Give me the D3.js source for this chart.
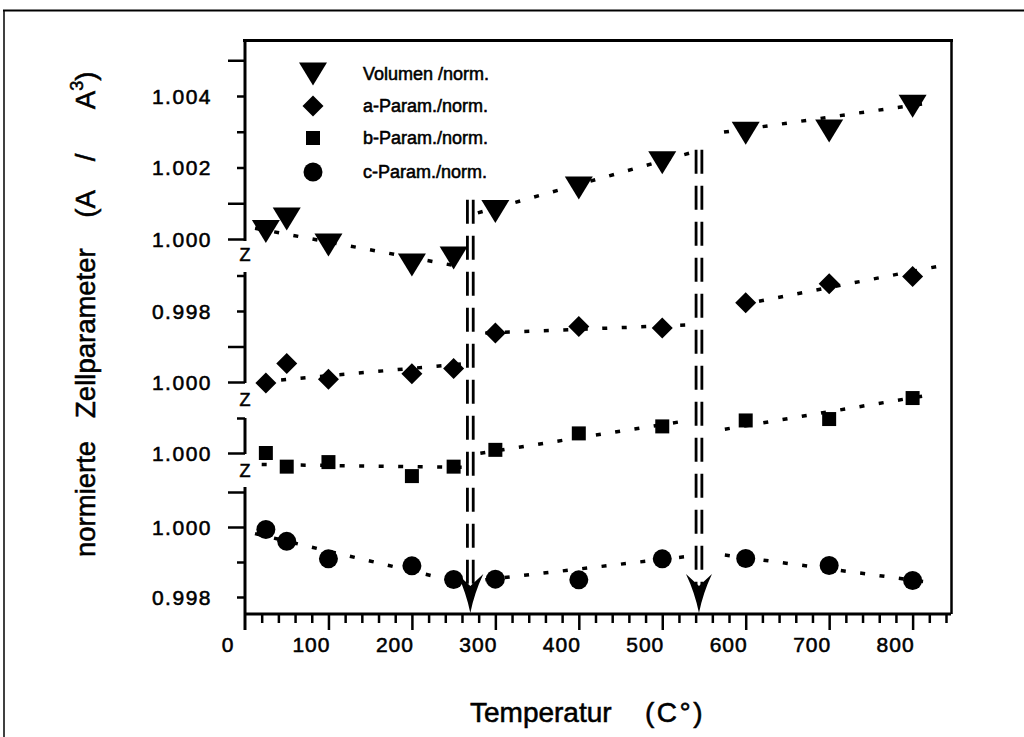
<!DOCTYPE html>
<html><head><meta charset="utf-8">
<script src="https://cdn.jsdelivr.net/npm/d3@7/dist/d3.min.js"></script>
<style>
body{margin:0;background:#fff;}
svg{display:block;}
text{font-family:"Liberation Sans",Arial,Helvetica,sans-serif;fill:#000;stroke:#000;stroke-width:0.55px;}
</style>
</head><body>
<svg id="chart" width="1024" height="737"></svg>
<script>
// ---------------- DATA ----------------
const temps = [25, 50, 100, 200, 250, 300, 400, 500, 600, 700, 800];
const volumen = [1.00021, 1.00056, 0.99983, 0.99927, 0.99947, 1.00077, 1.00143, 1.00213, 1.00296, 1.00302, 1.00371];
const aParam  = [0.99997, 1.00052, 1.00008, 1.00023, 1.00038, 1.00138, 1.00156, 1.00152, 1.00223, 1.00277, 1.00297];
const bParam  = [1.00000, 0.99961, 0.99974, 0.99934, 0.99961, 1.00009, 1.00056, 1.00076, 1.00093, 1.00097, 1.00157];
const cParam  = [0.99993, 0.99959, 0.99909, 0.99889, 0.99850, 0.99851, 0.99849, 0.99909, 0.99910, 0.99890, 0.99847];

// dotted fit segments: [[T0, v0], [T1, v1]]
const volumenFits = [[[12, 1.00030], [264, 0.99920]], [[279, 1.00073], [534, 1.00241]], [[574, 1.00299], [824, 1.00382]]];
const aFits = [[[20, 1.00001], [260, 1.00051]], [[288, 1.00138], [534, 1.00161]], [[593, 1.00217], [833, 1.00327]]];
const bFits = [[[20, 0.99967], [260, 0.99959]], [[282, 0.99999], [534, 1.00094]], [[575, 1.00068], [823, 1.00167]]];
const cFits = [[[12, 0.99981], [264, 0.99838]], [[288, 0.99849], [534, 0.99917]], [[575, 0.99920], [823, 0.99841]]];

const seriesNames = ["Volumen /norm.", "a-Param./norm.", "b-Param./norm.", "c-Param./norm."];

// x axis
const xTickLabels = [0, 100, 200, 300, 400, 500, 600, 700, 800];
const xMinorStep = 20;
const xMax = 846;

// y panels: tick values, printed labels, long ticks
const p1Ticks = [1.000, 1.001, 1.002, 1.003, 1.004, 1.005];
const p1Labels = {"1.000": "1.000", "1.002": "1.002", "1.004": "1.004"};
const p1Long = [1.000, 1.001, 1.005];
const p2Ticks = [1.000, 1.001, 1.002, 1.003];
const p2Labels = {"1.000": "1.000", "1.002": "0.998"};
const p2Long = [1.000, 1.001];
const p3Ticks = [1.000, 1.001];
const p3Labels = {"1.000": "1.000"};
const p3Long = [1.000];
const p4Ticks = [0.998, 0.999, 1.000, 1.001];
const p4Labels = {"1.000": "1.000", "0.998": "0.998"};
const p4Long = [1.000, 1.001];

// phase transitions (°C) and top of marker line (in panel-1 units)
const transitionT = [270, 544];
const transitionTop = [1.0011, 1.0025];

// ---------------- LAYOUT ----------------
const svg = d3.select("#chart");
const X0 = 245, X1 = 951, YAX = 614;
const x = d3.scaleLinear().domain([0, xMax]).range([X0, X1]);

const panels = [
  {y: d3.scaleLinear().domain([1.000, 1.004]).range([239, 96]), seg: [40, 241], ticks: p1Ticks, labels: p1Labels, long: p1Long, vals: volumen, fits: volumenFits, sym: "tri"},
  {y: d3.scaleLinear().domain([1.000, 1.002]).range([382, 311]), seg: [272, 383], ticks: p2Ticks, labels: p2Labels, long: p2Long, vals: aParam, fits: aFits, sym: "dia"},
  {y: d3.scaleLinear().domain([1.000, 1.001]).range([453, 418]), seg: [418, 454], ticks: p3Ticks, labels: p3Labels, long: p3Long, vals: bParam, fits: bFits, sym: "sq"},
  {y: d3.scaleLinear().domain([0.998, 1.000]).range([597, 527]), seg: [487, 630], ticks: p4Ticks, labels: p4Labels, long: p4Long, vals: cParam, fits: cFits, sym: "cir"}
];

const symPath = {
  tri: "M-14,-11.5L14,-11.5L0,11.5Z",
  dia: "M0,-10.5L10.5,0L0,10.5L-10.5,0Z",
  sq: "M-7,-7L7,-7L7,7L-7,7Z",
  cir: d3.symbol().type(d3.symbolCircle).size(Math.PI * 9.5 * 9.5)()
};

// outer border
svg.append("line").attr("x1", 3).attr("x2", 1024).attr("y1", 10.5).attr("y2", 10.5).attr("stroke", "#000").attr("stroke-width", 2);
svg.append("line").attr("x1", 4).attr("x2", 4).attr("y1", 10).attr("y2", 737).attr("stroke", "#000").attr("stroke-width", 1.5);

// plot frame top + right
svg.append("line").attr("x1", 243).attr("x2", 953).attr("y1", 40.5).attr("y2", 40.5).attr("stroke", "#000").attr("stroke-width", 3);
svg.append("line").attr("x1", 951.5).attr("x2", 951.5).attr("y1", 39).attr("y2", YAX).attr("stroke", "#000").attr("stroke-width", 2.5);

// x axis
const xAxisG = svg.append("g").attr("transform", `translate(0,${YAX})`)
  .call(d3.axisBottom(x).tickValues(d3.range(xMinorStep, xMax, xMinorStep)).tickSizeOuter(0).tickFormat(""));
xAxisG.select(".domain").remove();
xAxisG.selectAll(".tick line").attr("stroke-width", 2.5)
  .attr("y2", d => d % 100 === 0 ? 16 : 9);
svg.append("line").attr("x1", X0 - 1).attr("x2", X1).attr("y1", YAX).attr("y2", YAX).attr("stroke", "#000").attr("stroke-width", 3);
svg.append("g").selectAll("text").data(xTickLabels).join("text")
  .attr("x", d => x(d) - 17).attr("y", 652).attr("text-anchor", "middle")
  .attr("font-size", 21).attr("letter-spacing", 1).text(d => d);

// y axis panels
panels.forEach(p => {
  const g = svg.append("g").attr("transform", `translate(${X0},0)`);
  g.call(d3.axisLeft(p.y).tickValues(p.ticks).tickSizeOuter(0).tickFormat(""));
  g.select(".domain").remove();
  g.selectAll(".tick line").attr("stroke-width", 2.5)
    .attr("x2", d => p.long.some(v => Math.abs(v - d) < 1e-9) ? -17 : -8);
  g.append("line").attr("x1", 0).attr("x2", 0).attr("y1", p.seg[0]).attr("y2", p.seg[1]).attr("stroke", "#000").attr("stroke-width", 3);
  g.selectAll("text.lbl").data(p.ticks.filter(d => p.labels[d.toFixed(3)])).join("text")
    .attr("class", "lbl").attr("x", -33).attr("y", d => p.y(d)).attr("dy", "0.36em")
    .attr("text-anchor", "end").attr("font-size", 21).attr("letter-spacing", 1.5)
    .text(d => p.labels[d.toFixed(3)]);
});

// axis break glyphs
[255, 400, 471].forEach(yy => {
  svg.append("text").attr("x", X0).attr("y", yy).attr("dy", "0.36em").attr("text-anchor", "middle")
    .attr("font-size", 18).text("Z");
});

// fit lines (dotted)
panels.forEach(p => {
  const line = d3.line().x(d => x(d[0])).y(d => p.y(d[1]));
  svg.append("g").selectAll("path").data(p.fits).join("path")
    .attr("d", line).attr("fill", "none").attr("stroke", "#000")
    .attr("stroke-width", 3.5).attr("stroke-dasharray", "5,14.5");
});

// transition double dashed lines with arrowheads
const p1 = panels[0];
transitionT.forEach((t, i) => {
  const cx = x(t);
  [-2.9, 2.9].forEach(off => {
    svg.append("line").attr("x1", cx + off).attr("x2", cx + off)
      .attr("y1", p1.y(transitionTop[i])).attr("y2", YAX - 20)
      .attr("stroke", "#000").attr("stroke-width", 2.8).attr("stroke-dasharray", "24,12");
  });
  svg.append("path").attr("transform", `translate(${cx},${YAX - 1})`)
    .attr("d", "M0,0Q-4,-20 -13,-39L0,-27L13,-39Q4,-20 0,0Z").attr("fill", "#000");
});

// markers
panels.forEach(p => {
  svg.append("g").selectAll("path").data(temps.map((t, i) => [t, p.vals[i]])).join("path")
    .attr("transform", d => `translate(${x(d[0])},${p.y(d[1])})`)
    .attr("d", symPath[p.sym]).attr("fill", "#000");
});

// legend
const legY = [74, 106, 138, 172];
const legend = svg.append("g");
panels.forEach((p, i) => {
  legend.append("path").attr("transform", `translate(313,${legY[i]})`).attr("d", symPath[p.sym]).attr("fill", "#000");
  legend.append("text").attr("x", 363).attr("y", legY[i]).attr("dy", "0.36em")
    .attr("font-size", 18).text(seriesNames[i]);
});

// axis titles
const xt = svg.append("text").attr("x", 470).attr("y", 722).attr("text-anchor", "start")
  .attr("font-size", 28).style("white-space", "pre");
xt.append("tspan").text("Temperatur");
xt.append("tspan").attr("x", 645).attr("letter-spacing", 2.5).text("(C°)");
const yt = svg.append("text").attr("transform", "translate(95,557) rotate(-90)")
  .attr("text-anchor", "start").attr("font-size", 27.5).style("white-space", "pre");
yt.append("tspan").text("normierte   Zellparameter    (A    /      A");
yt.append("tspan").attr("dy", -12).attr("font-size", 18).text("3");
yt.append("tspan").attr("dy", 12).text(")");
</script>
</body></html>
